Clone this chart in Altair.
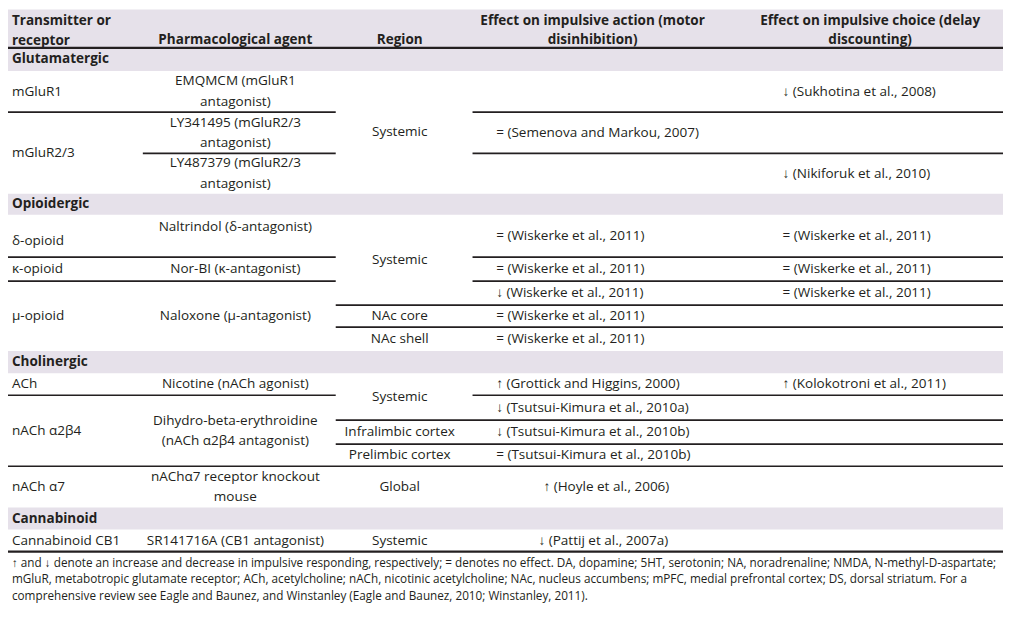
import altair as alt
import pandas as pd

# ---------------- table content ----------------
header_col1 = ["Transmitter or", "receptor"]
header_col2 = ["Pharmacological agent"]
header_col3 = ["Region"]
header_col4 = ["Effect on impulsive action (motor", "disinhibition)"]
header_col5 = ["Effect on impulsive choice (delay", "discounting)"]

groups = ["Glutamatergic", "Opioidergic", "Cholinergic", "Cannabinoid"]
# data rows (index) belonging to each group
group_rows = [[0, 1, 2], [3, 4, 5, 6, 7], [8, 9, 10, 11, 12], [13]]

# cells: (text lines, first row, last row)
receptor_cells = [
    (["mGluR1"], 0, 0), (["mGluR2/3"], 1, 2), (["δ-opioid"], 3, 3),
    (["κ-opioid"], 4, 4), (["μ-opioid"], 5, 7), (["ACh"], 8, 8),
    (["nACh α2β4"], 9, 11), (["nACh α7"], 12, 12), (["Cannabinoid CB1"], 13, 13),
]
agent_cells = [
    (["EMQMCM (mGluR1", "antagonist)"], 0, 0),
    (["LY341495 (mGluR2/3", "antagonist)"], 1, 1),
    (["LY487379 (mGluR2/3", "antagonist)"], 2, 2),
    (["Naltrindol (δ-antagonist)"], 3, 3),
    (["Nor-BI (κ-antagonist)"], 4, 4),
    (["Naloxone (μ-antagonist)"], 5, 7),
    (["Nicotine (nACh agonist)"], 8, 8),
    (["Dihydro-beta-erythroidine", "(nACh α2β4 antagonist)"], 9, 11),
    (["nAChα7 receptor knockout", "mouse"], 12, 12),
    (["SR141716A (CB1 antagonist)"], 13, 13),
]
region_cells = [
    (["Systemic"], 0, 2), (["Systemic"], 3, 5), (["NAc core"], 6, 6),
    (["NAc shell"], 7, 7), (["Systemic"], 8, 9), (["Infralimbic cortex"], 10, 10),
    (["Prelimbic cortex"], 11, 11), (["Global"], 12, 12), (["Systemic"], 13, 13),
]
action_effects = [
    "", "= (Semenova and Markou, 2007)", "",
    "= (Wiskerke et al., 2011)", "= (Wiskerke et al., 2011)",
    "↓ (Wiskerke et al., 2011)", "= (Wiskerke et al., 2011)",
    "= (Wiskerke et al., 2011)",
    "↑ (Grottick and Higgins, 2000)", "↓ (Tsutsui-Kimura et al., 2010a)",
    "↓ (Tsutsui-Kimura et al., 2010b)", "= (Tsutsui-Kimura et al., 2010b)",
    "↑ (Hoyle et al., 2006)", "↓ (Pattij et al., 2007a)",
]
choice_effects = [
    "↓ (Sukhotina et al., 2008)", "", "↓ (Nikiforuk et al., 2010)",
    "= (Wiskerke et al., 2011)", "= (Wiskerke et al., 2011)",
    "= (Wiskerke et al., 2011)", "", "",
    "↑ (Kolokotroni et al., 2011)", "", "", "", "", "",
]
footnote = [
    "↑ and ↓ denote an increase and decrease in impulsive responding, respectively; = denotes no effect. DA, dopamine; 5HT, serotonin; NA, noradrenaline; NMDA, N-methyl-D-aspartate;",
    "mGluR, metabotropic glutamate receptor; ACh, acetylcholine; nACh, nicotinic acetylcholine; NAc, nucleus accumbens; mPFC, medial prefrontal cortex; DS, dorsal striatum. For a",
    "comprehensive review see Eagle and Baunez, and Winstanley (Eagle and Baunez, 2010; Winstanley, 2011).",
]

# ---------------- layout (reference pixel units) ----------------
W_REF, H_REF = 1011, 618
CHART_W, CHART_H = 1000, 596
HEADER_H = 40
GROUP_H = [24, 22, 23, 23]
ROW_H = [43, 43, 42, 44, 25, 25, 23, 25, 23, 26, 25, 23, 43, 23]
col_edges = [0, 137, 333, 472, 780, W_REF]
col1_left, col2_center, col3_center, col4_left, col5_left = 4, 231, 398, 496, 787
indent4 = {12: 48, 13: 43}
line_gap = 21
dy_cell = {("rec", 3): 5, ("agent", 3): -9}
TXT = "#231f20"
BAND = "#e6e1ea"
FONT = "Open Sans"
FS = 13.6
FS_FOOT = 11.8

# compute row positions
row_top, row_bot = {}, {}
bands = [(0, HEADER_H)]
y = HEADER_H
for g, rows in enumerate(group_rows):
    bands.append((y, y + GROUP_H[g]))
    y += GROUP_H[g]
    for r in rows:
        row_top[r] = y
        y += ROW_H[r]
        row_bot[r] = y
table_bottom = y

texts = []  # x, y, text, style


def add(lines, x, yc, style):
    n = len(lines)
    for i, t in enumerate(lines):
        texts.append(dict(x=x, y=yc + (i - (n - 1) / 2) * line_gap, text=t, style=style))


# header
add(header_col1, col1_left, 22, "bl")
texts.append(dict(x=col2_center, y=32, text=header_col2[0], style="bc"))
texts.append(dict(x=col3_center, y=32, text=header_col3[0], style="bc"))
texts.append(dict(x=594, y=12, text=header_col4[0], style="bc"))
texts.append(dict(x=594, y=32, text=header_col4[1], style="bc"))
texts.append(dict(x=876, y=12, text=header_col5[0], style="bc"))
texts.append(dict(x=876, y=32, text=header_col5[1], style="bc"))
for g, name in enumerate(groups):
    b0, b1 = bands[g + 1]
    texts.append(dict(x=col1_left, y=(b0 + b1) / 2, text=name, style="bl"))

for lines, r0, r1 in receptor_cells:
    add(lines, col1_left, (row_top[r0] + row_bot[r1]) / 2 + dy_cell.get(("rec", r0), 0), "nl")
for lines, r0, r1 in agent_cells:
    add(lines, col2_center, (row_top[r0] + row_bot[r1]) / 2 + dy_cell.get(("agent", r0), 0), "nc")
for lines, r0, r1 in region_cells:
    add(lines, col3_center, (row_top[r0] + row_bot[r1]) / 2, "nc")
for r, t in enumerate(action_effects):
    if t:
        add([t], col4_left + indent4.get(r, 0), (row_top[r] + row_bot[r]) / 2, "nl")
for r, t in enumerate(choice_effects):
    if t:
        add([t], col5_left, (row_top[r] + row_bot[r]) / 2, "nl")
for i, t in enumerate(footnote):
    texts.append(dict(x=col1_left, y=table_bottom + 12 + i * 17, text=t, style="fn"))

text_df = pd.DataFrame(texts)

# rules derived from cell spans
ends = {c: set() for c in range(5)}
for c, cells in enumerate([receptor_cells, agent_cells, region_cells]):
    for _, r0, r1 in cells:
        ends[c].add(r1)
for r in range(len(ROW_H)):
    ends[3].add(r)
    ends[4].add(r)
last_rows = {rows[-1] for rows in group_rows}
rules = []
for r in range(len(ROW_H)):
    if r in last_rows:
        continue
    segs = []
    for c in range(5):
        if r in ends[c]:
            x0, x1 = col_edges[c], col_edges[c + 1]
            if segs and abs(segs[-1][1] - x0) < 1e-6:
                segs[-1][1] = x1
            else:
                segs.append([x0, x1])
    for x0, x1 in segs:
        rules.append(dict(x=x0, x2=x1, y=row_bot[r], w=1.7))
rules.append(dict(x=0, x2=W_REF, y=HEADER_H, w=2.4))
rules.append(dict(x=0, x2=W_REF, y=table_bottom, w=2.4))
rule_df = pd.DataFrame(rules)

band_df = pd.DataFrame([dict(x=0, x2=W_REF, y=b0, y2=b1) for b0, b1 in bands])

xs = alt.Scale(domain=[0, W_REF], nice=False, zero=False)
ys = alt.Scale(domain=[0, H_REF], nice=False, zero=False, reverse=True)

band_layer = alt.Chart(band_df).mark_rect(color=BAND, strokeWidth=0).encode(
    x=alt.X("x:Q", scale=xs, axis=None), x2="x2:Q",
    y=alt.Y("y:Q", scale=ys, axis=None), y2="y2:Q",
)
rule_layer = alt.Chart(rule_df).mark_rule(color=TXT).encode(
    x=alt.X("x:Q", scale=xs, axis=None), x2="x2:Q",
    y=alt.Y("y:Q", scale=ys, axis=None),
    strokeWidth=alt.StrokeWidth("w:Q", scale=None, legend=None),
)

styles = {
    "bl": dict(align="left", fontWeight="bold", fontSize=FS),
    "bc": dict(align="center", fontWeight="bold", fontSize=FS),
    "nl": dict(align="left", fontWeight="normal", fontSize=FS),
    "nc": dict(align="center", fontWeight="normal", fontSize=FS),
    "fn": dict(align="left", fontWeight="normal", fontSize=FS_FOOT),
}
text_layers = []
for s, props in styles.items():
    text_layers.append(
        alt.Chart(text_df[text_df["style"] == s]).mark_text(
            baseline="middle", font=FONT, color=TXT, **props
        ).encode(
            x=alt.X("x:Q", scale=xs, axis=None),
            y=alt.Y("y:Q", scale=ys, axis=None),
            text="text:N",
        )
    )

chart = alt.layer(band_layer, rule_layer, *text_layers).properties(
    width=CHART_W, height=CHART_H, padding=0, background="white",
    autosize=alt.AutoSizeParams(type="none"),
).configure_view(strokeWidth=0, stroke="transparent")

chart.save("out.html", embed_options={"renderer": "svg", "actions": False})
